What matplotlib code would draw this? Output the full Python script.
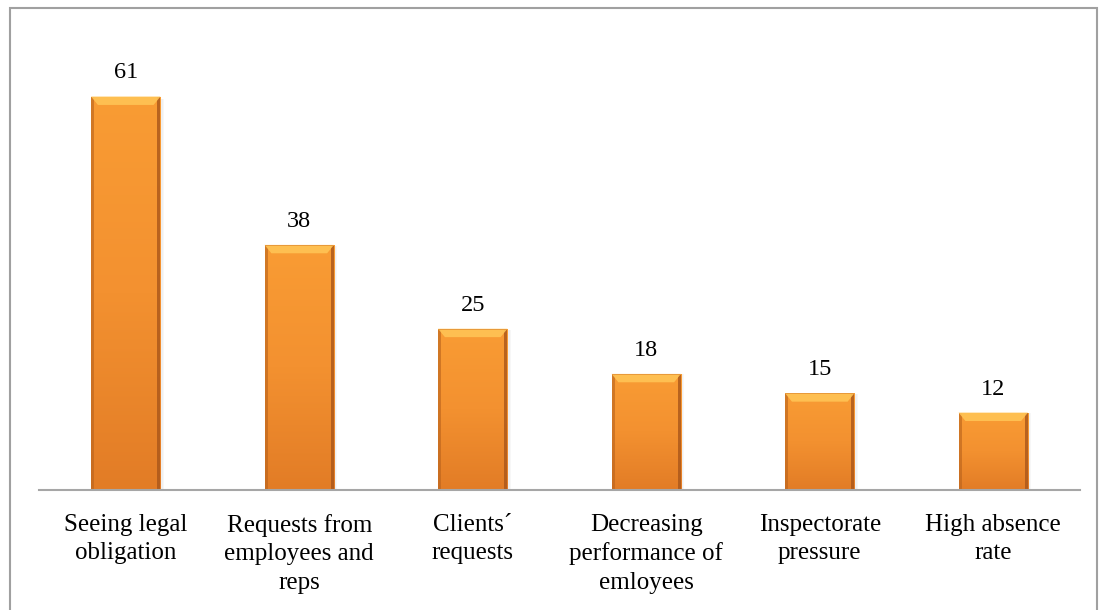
#!/usr/bin/env python3
"""
Bar chart: reasons for introducing workplace health measures
"""
import numpy as np
import matplotlib
matplotlib.use('Agg')
import matplotlib.pyplot as plt
from matplotlib.patches import Rectangle, Polygon
from matplotlib.colors import LinearSegmentedColormap

categories = [
    'Seeing legal\nobligation',
    'Requests from\nemployees and\nreps',
    'Clients\u00b4\nrequests',
    'Decreasing\nperformance of\nemloyees',
    'Inspectorate\npressure',
    'High absence\nrate',
]
values = [61, 38, 25, 18, 15, 12]

plt.rcParams['font.family'] = ['Liberation Serif', 'DejaVu Serif']

fig = plt.figure(figsize=(10.99, 6.10), dpi=100)
ax = fig.add_axes([39 / 1099, 120 / 610, 1041 / 1099, 451.5 / 610])

x = np.arange(len(values))
bars = ax.bar(x, values, width=0.40, color='#F39130', edgecolor='none', zorder=2)

ax.set_xlim(-0.5, len(values) - 0.5)
ax.set_ylim(0, 70)

# vertical gradient, lighter at the top
grad = LinearSegmentedColormap.from_list('og', ['#E27C26', '#F39130', '#F99C34'])
ramp = np.linspace(0, 1, 256).reshape(-1, 1)

for b in bars:
    x0, w, h = b.get_x(), b.get_width(), b.get_height()
    im = ax.imshow(ramp, cmap=grad, aspect='auto', origin='lower',
                   extent=(x0, x0 + w, 0, h), zorder=3)
    im.set_clip_path(b)
    # soft shadow on the right
    for k, a in enumerate([0.10, 0.06, 0.03]):
        ax.add_patch(Rectangle((x0 + w + k * 0.006, 0), 0.006, h * 0.995,
                               color='#000000', alpha=a, lw=0, zorder=1))
    # darker side edges
    ew = w * 0.045
    ax.add_patch(Rectangle((x0, 0), ew, h, color='#B8621C', alpha=0.6, lw=0, zorder=4))
    ax.add_patch(Rectangle((x0 + w - ew, 0), ew, h, color='#A9561A', alpha=0.8, lw=0, zorder=4))
    # top bevel
    bh = 1.3
    ax.add_patch(Polygon([(x0, h), (x0 + w, h), (x0 + w - ew * 2.2, h - bh), (x0 + ew * 2.2, h - bh)],
                         closed=True, color='#FFC455', alpha=0.9, lw=0, zorder=5))
    ax.add_patch(Rectangle((x0, h - 0.12), w, 0.12, color='#E89A3A', lw=0, zorder=5))
    ax.annotate(str(int(h)), (x0 + w / 2, h), xytext=(0, 13), textcoords='offset points',
                ha='center', va='baseline', fontsize=17.5, color='#000000')

ax.set_xticks(x)
ax.set_xticklabels(categories, fontsize=18, linespacing=1.38, va='top')
ax.tick_params(axis='x', length=0, pad=17)
ax.set_yticks([])

for side in ['left', 'right', 'top']:
    ax.spines[side].set_visible(False)
ax.spines['bottom'].set_color('#A6A6A6')
ax.spines['bottom'].set_linewidth(1.5)
ax.spines['bottom'].set_zorder(6)

# outer chart border
fig.add_artist(Rectangle((10 / 1099, -0.05), 1087 / 1099, (602 / 610) + 0.05,
                         transform=fig.transFigure, fill=False,
                         edgecolor='#A0A0A0', lw=1.5))

fig.savefig('out.png', dpi=100)
